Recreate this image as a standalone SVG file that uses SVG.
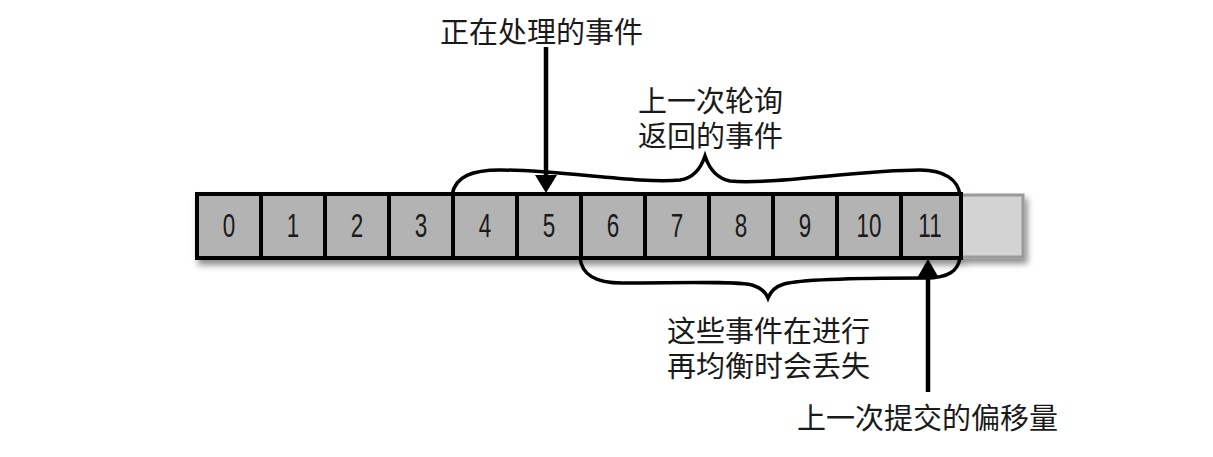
<svg xmlns="http://www.w3.org/2000/svg" width="1213" height="457" viewBox="0 0 1213 457">
<defs>
<filter id="sh" x="-5%" y="-30%" width="110%" height="170%">
<feDropShadow dx="3" dy="5" stdDeviation="3" flood-color="#000" flood-opacity="0.45"/>
</filter>
<style>
.cell{fill:#b3b3b3;stroke:#000;stroke-width:4}
.empty{fill:#d3d3d3;stroke:#999;stroke-width:3}
.num{font-family:"Liberation Sans",sans-serif;font-size:33px;text-anchor:middle;fill:#1a1a1a}
.lbl{font-family:"Liberation Sans","Noto Sans CJK SC",sans-serif;font-size:29px;fill:#1a1a1a}
.brace{fill:none;stroke:#000;stroke-width:3.5}
.arr{stroke:#000;stroke-width:4.5;fill:none}
</style>
</defs>
<g id="array" filter="url(#sh)">
<rect class="empty" x="961" y="195" width="62" height="62"/>
<rect class="cell" x="197" y="194" width="764" height="64"/>
</g>
<g id="cells">
<g id="cell0"><rect class="cell" x="197" y="194" width="64" height="64"/><text class="num" transform="translate(229,237) scale(0.68,1)">0</text></g>
<g id="cell1"><rect class="cell" x="261" y="194" width="64" height="64"/><text class="num" transform="translate(293,237) scale(0.68,1)">1</text></g>
<g id="cell2"><rect class="cell" x="325" y="194" width="64" height="64"/><text class="num" transform="translate(357,237) scale(0.68,1)">2</text></g>
<g id="cell3"><rect class="cell" x="389" y="194" width="64" height="64"/><text class="num" transform="translate(421,237) scale(0.68,1)">3</text></g>
<g id="cell4"><rect class="cell" x="453" y="194" width="64" height="64"/><text class="num" transform="translate(485,237) scale(0.68,1)">4</text></g>
<g id="cell5"><rect class="cell" x="517" y="194" width="64" height="64"/><text class="num" transform="translate(549,237) scale(0.68,1)">5</text></g>
<g id="cell6"><rect class="cell" x="581" y="194" width="64" height="64"/><text class="num" transform="translate(613,237) scale(0.68,1)">6</text></g>
<g id="cell7"><rect class="cell" x="645" y="194" width="64" height="64"/><text class="num" transform="translate(677,237) scale(0.68,1)">7</text></g>
<g id="cell8"><rect class="cell" x="709" y="194" width="64" height="64"/><text class="num" transform="translate(741,237) scale(0.68,1)">8</text></g>
<g id="cell9"><rect class="cell" x="773" y="194" width="64" height="64"/><text class="num" transform="translate(805,237) scale(0.68,1)">9</text></g>
<g id="cell10"><rect class="cell" x="837" y="194" width="64" height="64"/><text class="num" transform="translate(869,237) scale(0.68,1)">10</text></g>
<g id="cell11"><rect class="cell" x="901" y="194" width="60" height="64"/><text class="num" transform="translate(930,237) scale(0.68,1)">11</text></g>
</g>
<g id="connectors">
<path class="brace" d="M452,195 C455,176 473,170 500,170 C560,170 640,184 680,180 C695,178 702,165 705,156 C708,165 715,178 730,181 C770,185 860,170 920,170 C945,170 958,180 960,195"/>
<path class="brace" d="M580,258 C582,275 595,283 622,283 C680,283 735,281 752,285 C762,288 766,293 768,298 C770,293 774,287 784,284 C805,278 880,278 925,278 C950,278 958,270 960,258"/>
<line class="arr" x1="546" y1="47" x2="546" y2="178"/>
<polygon points="535,175 557,175 546,193" fill="#000"/>
<line class="arr" x1="928" y1="392" x2="928" y2="274"/>
<polygon points="917,278 939,278 928,259" fill="#000"/>
</g>
<g id="label-processing"><text class="lbl" x="440" y="43">正在处理的事件</text></g>
<g id="label-poll"><text class="lbl" x="638" y="112">上一次轮询</text><text class="lbl" x="638" y="147">返回的事件</text></g>
<g id="label-lost"><text class="lbl" x="667" y="342">这些事件在进行</text><text class="lbl" x="667" y="377">再均衡时会丢失</text></g>
<g id="label-commit"><text class="lbl" x="797" y="429">上一次提交的偏移量</text></g>
</svg>
